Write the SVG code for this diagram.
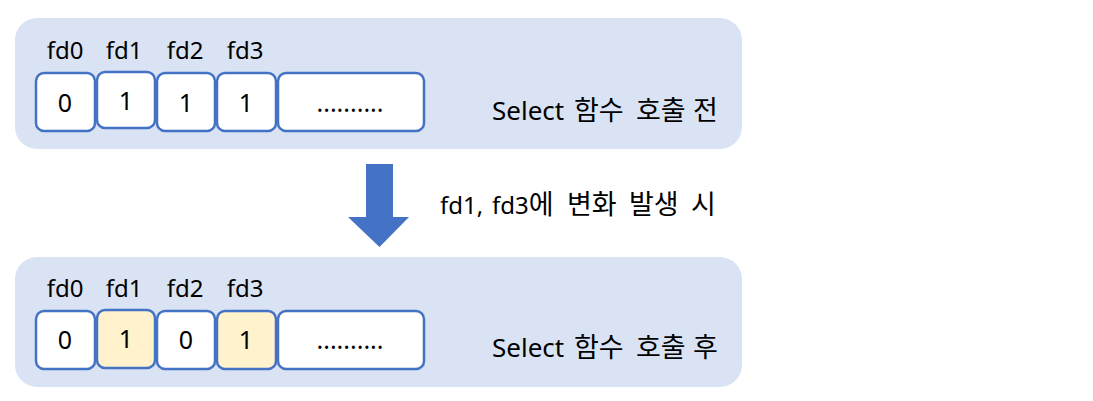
<svg xmlns="http://www.w3.org/2000/svg" width="1093" height="401" viewBox="0 0 1093 401">
<style>
.panel{fill:#DAE3F3}
.cell{fill:#FFFFFF;stroke:#4472C4;stroke-width:2.5}
.hl{fill:#FFF2CC}
text{font-family:"Noto Sans","Noto Sans CJK KR",sans-serif;fill:#000}
.lab{font-size:24px;text-anchor:middle}
.val{font-size:25px;text-anchor:middle}
.cap{font-size:26px}
.mid{font-size:24px}
.ko{font-size:27px}
</style>
<rect width="1093" height="401" fill="#FFFFFF"/>
<g id="panel-before">
<rect class="panel" x="15" y="18" width="727" height="131" rx="22"/>
<text class="lab" x="65" y="59">fd0</text>
<text class="lab" x="124" y="59">fd1</text>
<text class="lab" x="185" y="59">fd2</text>
<text class="lab" x="245" y="59">fd3</text>
<rect class="cell" x="36" y="73" width="59" height="58" rx="8"/>
<rect class="cell" x="97" y="72" width="58" height="56" rx="8"/>
<rect class="cell" x="157" y="73" width="58" height="58" rx="8"/>
<rect class="cell" x="217" y="73" width="59" height="58" rx="8"/>
<rect class="cell" x="278" y="73" width="146" height="58" rx="8"/>
<text class="val" x="65" y="112">0</text>
<text class="val" x="126" y="110">1</text>
<text class="val" x="186" y="112">1</text>
<text class="val" x="246" y="112">1</text>
<text class="val" x="350" y="112">..........</text>
<text class="cap" y="120"><tspan x="492">Select</tspan> <tspan class="ko" x="574">함수</tspan> <tspan class="ko" x="636">호출</tspan> <tspan class="ko" x="693">전</tspan></text>
</g>
<g id="connectors">
<polygon points="366,164 393,164 393,217 409,217 379.5,247 348,217 366,217" fill="#4472C4"/>
<text class="mid" y="214"><tspan x="440">fd1,</tspan> <tspan x="492">fd3<tspan class="ko">에</tspan></tspan> <tspan class="ko" x="567">변화</tspan> <tspan class="ko" x="629">발생</tspan> <tspan class="ko" x="691">시</tspan></text>
</g>
<g id="panel-after">
<rect class="panel" x="15" y="257" width="727" height="130" rx="22"/>
<text class="lab" x="65" y="297">fd0</text>
<text class="lab" x="124" y="297">fd1</text>
<text class="lab" x="185" y="297">fd2</text>
<text class="lab" x="245" y="297">fd3</text>
<rect class="cell" x="36" y="311" width="59" height="58" rx="8"/>
<rect class="cell hl" x="97" y="310" width="58" height="58" rx="8"/>
<rect class="cell" x="157" y="311" width="58" height="58" rx="8"/>
<rect class="cell hl" x="217" y="311" width="59" height="58" rx="8"/>
<rect class="cell" x="278" y="311" width="146" height="58" rx="8"/>
<text class="val" x="65" y="349">0</text>
<text class="val" x="126" y="348">1</text>
<text class="val" x="186" y="349">0</text>
<text class="val" x="246" y="349">1</text>
<text class="val" x="350" y="349">..........</text>
<text class="cap" y="357"><tspan x="492">Select</tspan> <tspan class="ko" x="574">함수</tspan> <tspan class="ko" x="636">호출</tspan> <tspan class="ko" x="693">후</tspan></text>
</g>
</svg>
